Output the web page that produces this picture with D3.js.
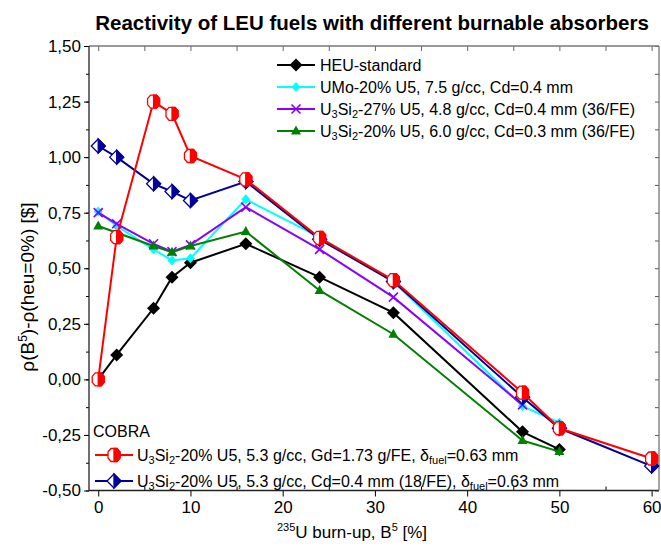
<!DOCTYPE html>
<html>
<head>
<meta charset="utf-8">
<script src="https://cdn.jsdelivr.net/npm/d3@7"></script>
<style>
	body{margin:0;background:#fff;}
	svg{font-family:"Liberation Sans",Arial,sans-serif;}
</style>
</head>
<body>
<svg id="myGraph" width="661" height="548"></svg>
<script>
// burn-up values (x) and reactivity values (y) per series
var heuX = [0,2,6,8,10,16,24,32,46,50];
var heuY = [0.00,0.11,0.32,0.46,0.525,0.61,0.46,0.30,-0.236,-0.315];
var umoX = [0,2,6,8,10,16,24,32,46,50];
var umoY = [0.755,0.69,0.585,0.535,0.545,0.81,0.64,0.44,-0.12,-0.195];
var si27X = [0,2,6,8,10,16,24,32,46];
var si27Y = [0.75,0.70,0.61,0.575,0.605,0.775,0.585,0.37,-0.115];
var si20X = [0,6,8,10,16,24,32,46,50];
var si20Y = [0.69,0.60,0.572,0.60,0.665,0.40,0.203,-0.275,-0.325];
var gdX = [0,2,6,8,10,16,24,32,46,50,60];
var gdY = [0.00,0.64,1.25,1.195,1.005,0.90,0.637,0.447,-0.06,-0.22,-0.356];
var cdX = [0,2,6,8,10,16,24,32,46,50,60];
var cdY = [1.05,1.00,0.88,0.845,0.805,0.89,0.63,0.44,-0.08,-0.22,-0.39];

var xTicks = [0,10,20,30,40,50,60];
var yTicks = [-0.5,-0.25,0,0.25,0.5,0.75,1.0,1.25,1.5];

(function(){
var svg = d3.select("#myGraph");
var mLeft = 89, mRight = 659, mTop = 46, mBottom = 490.5;

var x = d3.scaleLinear().domain([-1,60.8]).range([mLeft,mRight]);
var y = d3.scaleLinear().domain([-0.5,1.5]).range([mBottom,mTop]);

function zipXY(xs,ys){
	return xs.map(function(d,i){return [d,ys[i]];});
}

// frame + ticks
var minorX = d3.range(0,61,5);
var minorY = d3.range(-0.5,1.51,0.125);
var fmt = function(v){return v.toFixed(2).replace(".",",");};

var axB = svg.append("g").attr("transform","translate(0,"+mBottom+")")
	.call(d3.axisBottom(x).tickValues(xTicks).tickSize(6).tickPadding(4).tickFormat(d3.format("d")));
axB.select(".domain").remove();
axB.selectAll("text").style("font-size","17px").attr("fill","#000");
svg.append("g").attr("transform","translate(0,"+mBottom+")")
	.call(d3.axisTop(x).tickValues(minorX.filter(function(d){return d%10;})).tickSize(4).tickFormat(""))
	.select(".domain").remove();

var axL = svg.append("g").attr("transform","translate("+mLeft+",0)")
	.call(d3.axisLeft(y).tickValues(yTicks).tickSize(5).tickPadding(3).tickFormat(fmt));
axL.select(".domain").remove();
axL.selectAll("text").style("font-size","17px").attr("fill","#000");
svg.append("g").attr("transform","translate("+mLeft+",0)")
	.call(d3.axisLeft(y).tickValues(minorY).tickSize(3).tickFormat(""))
	.select(".domain").remove();

svg.append("g").attr("transform","translate(0,"+mTop+")")
	.call(d3.axisBottom(x).tickValues(minorX).tickSize(5).tickFormat(""))
	.call(function(g){g.select(".domain").remove();g.selectAll("line").attr("stroke","#666");});
svg.append("g").attr("transform","translate("+mRight+",0)")
	.call(d3.axisLeft(y).tickValues(minorY).tickSize(4).tickFormat(""))
	.call(function(g){g.select(".domain").remove();g.selectAll("line").attr("stroke","#555");});

svg.append("line").attr("x1",mLeft).attr("x2",mRight).attr("y1",mTop).attr("y2",mTop).attr("stroke","#777").attr("stroke-width",1.5);
svg.append("line").attr("x1",mLeft).attr("x2",mRight).attr("y1",mBottom).attr("y2",mBottom).attr("stroke","#222").attr("stroke-width",1.3);
svg.append("line").attr("x1",mLeft).attr("x2",mLeft).attr("y1",mTop).attr("y2",mBottom).attr("stroke","#222").attr("stroke-width",1.3);
svg.append("line").attr("x1",mRight).attr("x2",mRight).attr("y1",mTop).attr("y2",mBottom).attr("stroke","#777").attr("stroke-width",1.3);

// marker shapes
var hexPts = [[-6,-3],[-3,-6.5],[3,-6.5],[6,-3],[6,3],[3,6.5],[-3,6.5],[-6,3]];
function drawMarker(g,type,color){
	if(type=="diamond"){
		g.append("path").attr("d","M0,-6.5L6.5,0L0,6.5L-6.5,0Z").attr("fill",color);
	}else if(type=="smalldiamond"){
		g.append("path").attr("d","M0,-5L4.5,0L0,5L-4.5,0Z").attr("fill",color);
	}else if(type=="cross"){
		g.append("path").attr("d","M-4.5,-4.5L4.5,4.5M-4.5,4.5L4.5,-4.5").attr("stroke",color).attr("stroke-width",1.6).attr("fill","none");
	}else if(type=="triangle"){
		g.append("path").attr("d","M0,-5.5L5,3.5L-5,3.5Z").attr("fill",color);
	}else if(type=="halfhex"){
		g.append("path").attr("d","M"+hexPts.join("L")+"Z").attr("fill","#fff").attr("stroke",color).attr("stroke-width",1.3);
		g.append("path").attr("d","M0,-6.5L3,-6.5L6,-3L6,3L3,6.5L0,6.5Z").attr("fill",color).attr("stroke",color).attr("stroke-width",1.3);
	}else if(type=="halfdiamond"){
		g.append("path").attr("d","M0,-7L7,0L0,7L-7,0Z").attr("fill","#fff").attr("stroke",color).attr("stroke-width",1.3);
		g.append("path").attr("d","M0,-7L7,0L0,7Z").attr("fill",color).attr("stroke",color).attr("stroke-width",1.3);
	}
}

var series = [
	{xs:heuX, ys:heuY, color:"#000000", marker:"diamond"},
	{xs:umoX, ys:umoY, color:"#00ffff", marker:"smalldiamond"},
	{xs:si27X, ys:si27Y, color:"#8a00ff", marker:"cross"},
	{xs:si20X, ys:si20Y, color:"#008000", marker:"triangle"},
	{xs:cdX, ys:cdY, color:"#000099", marker:"halfdiamond"},
	{xs:gdX, ys:gdY, color:"#ff0000", marker:"halfhex"}
];

var line = d3.line().x(function(d){return x(d[0]);}).y(function(d){return y(d[1]);});

series.forEach(function(s){
	var pts = zipXY(s.xs,s.ys);
	svg.append("path").datum(pts).attr("d",line)
		.attr("fill","none").attr("stroke",s.color).attr("stroke-width",2);
	svg.selectAll(null).data(pts).enter().append("g")
		.attr("transform",function(d){return "translate("+x(d[0])+","+y(d[1])+")";})
		.each(function(){drawMarker(d3.select(this),s.marker,s.color);});
});

// legend helpers
function legendRow(lx,ly,color,marker){
	svg.append("line").attr("x1",lx).attr("x2",lx+38).attr("y1",ly).attr("y2",ly)
		.attr("stroke",color).attr("stroke-width",2);
	drawMarker(svg.append("g").attr("transform","translate("+(lx+19)+","+ly+")"),marker,color);
}
function richText(tx,ty,parts){
	var t = svg.append("text").attr("x",tx).attr("y",ty).style("font-size","16px").attr("dominant-baseline","central");
	var shift = 0;
	parts.forEach(function(p){
		var want = p.sub ? 5 : (p.sup ? -6 : 0);
		t.append("tspan").attr("dy",want-shift).style("font-size",p.sub||p.sup ? "11px" : null).text(p.t);
		shift = want;
	});
	return t;
}

legendRow(277,65,"#000000","diamond");
richText(320,65,[{t:"HEU-standard"}]);
legendRow(277,87,"#00ffff","smalldiamond");
richText(320,87,[{t:"UMo-20% U5, 7.5 g/cc, Cd=0.4 mm"}]);
legendRow(277,109,"#8a00ff","cross");
richText(320,109,[{t:"U"},{t:"3",sub:1},{t:"Si"},{t:"2",sub:1},{t:"-27% U5, 4.8 g/cc, Cd=0.4 mm (36/FE)"}]);
legendRow(277,131,"#008000","triangle");
richText(320,131,[{t:"U"},{t:"3",sub:1},{t:"Si"},{t:"2",sub:1},{t:"-20% U5, 6.0 g/cc, Cd=0.3 mm (36/FE)"}]);

richText(93,431,[{t:"COBRA"}]);
legendRow(95,455,"#ff0000","halfhex");
richText(137,455,[{t:"U"},{t:"3",sub:1},{t:"Si"},{t:"2",sub:1},{t:"-20% U5, 5.3 g/cc, Gd=1.73 g/FE, δ"},{t:"fuel",sub:1},{t:"=0.63 mm"}]);
legendRow(95,481,"#000099","halfdiamond");
richText(137,481,[{t:"U"},{t:"3",sub:1},{t:"Si"},{t:"2",sub:1},{t:"-20% U5, 5.3 g/cc, Cd=0.4 mm (18/FE), δ"},{t:"fuel",sub:1},{t:"=0.63 mm"}]);

// titles
svg.append("text").attr("x",372).attr("y",22).attr("text-anchor","middle").attr("dominant-baseline","central")
	.style("font-size","20.5px").style("font-weight","bold")
	.text("Reactivity of LEU fuels with different burnable absorbers");

var xt = svg.append("text").attr("x",352).attr("y",538).attr("text-anchor","middle").style("font-size","17px");
xt.append("tspan").attr("dy",-7).style("font-size","11px").text("235");
xt.append("tspan").attr("dy",7).text("U burn-up, B");
xt.append("tspan").attr("dy",-7).style("font-size","11px").text("5");
xt.append("tspan").attr("dy",7).text(" [%]");

var yt = svg.append("text").attr("transform","translate(34,287) rotate(-90)").attr("text-anchor","middle").style("font-size","19px");
yt.append("tspan").text("ρ(B");
yt.append("tspan").attr("dy",-7).style("font-size","12px").text("5");
yt.append("tspan").attr("dy",7).text(")-ρ(heu=0%) [$]");
})();
</script>
</body>
</html>
